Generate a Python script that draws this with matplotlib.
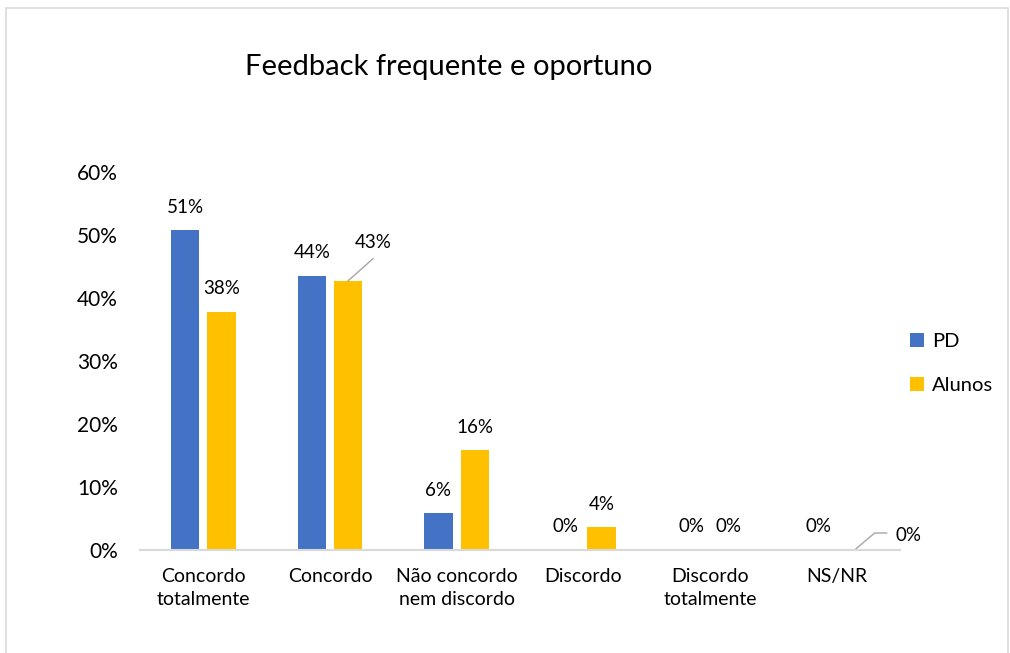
import matplotlib.pyplot as plt
from matplotlib.patches import Rectangle
import numpy as np

plt.rcParams['font.family'] = ['Lato', 'DejaVu Sans']

# data
categorias = ["Concordo\ntotalmente", "Concordo", "Não concordo\nnem discordo",
              "Discordo", "Discordo\ntotalmente", "NS/NR"]
pd_vals = [0.507, 0.435, 0.058, 0.0, 0.0, 0.0]
alunos_vals = [0.378, 0.427, 0.158, 0.036, 0.0, 0.0]
pd_labels = ["51%", "44%", "6%", "0%", "0%", "0%"]
alunos_labels = ["38%", "43%", "16%", "4%", "0%", "0%"]

azul = "#4472C4"
amarelo = "#FFC000"

fig = plt.figure(figsize=(10.10, 6.53), dpi=100)
ax = fig.add_axes([0.1386, 0.1582, 0.7525, 0.5789])

x = np.arange(len(categorias))
w = 0.225
off = 0.144
ax.bar(x - off, pd_vals, w, color=azul, label="PD")
ax.bar(x + off, alunos_vals, w, color=amarelo, label="Alunos")

ax.set_xlim(-0.5, 5.5)
ax.set_ylim(0, 0.6)
ax.set_yticks(np.arange(0, 0.61, 0.1))
ax.set_yticklabels([f"{int(round(v * 100))}%" for v in np.arange(0, 0.61, 0.1)])
ax.set_xticks(x)
ax.set_xticklabels(categorias, linespacing=1.4)
ax.tick_params(axis='y', length=0, pad=16, labelsize=15, colors="#000000")
ax.tick_params(axis='x', length=0, pad=13.5, labelsize=14)
for s in ["top", "right", "left"]:
    ax.spines[s].set_visible(False)
ax.spines["bottom"].set_color("#D9D9D9")
ax.spines["bottom"].set_linewidth(1.5)

# data labels
for i in range(len(categorias)):
    ax.annotate(pd_labels[i], (x[i] - off, pd_vals[i]), xytext=(0, 16.5),
                textcoords="offset points", ha="center", va="center", fontsize=13.5)

for i in range(len(categorias)):
    if i == 1:
        ax.text(1.34, 0.487, alunos_labels[i], ha="center", va="center", fontsize=13.5)
        ax.plot([x[i] + off, 1.34], [alunos_vals[i], 0.462], color="#A6A6A6", lw=1)
    elif i == 5:
        ax.text(5.57, 0.022, alunos_labels[i], ha="center", va="center", fontsize=13.5,
                clip_on=False)
        ax.plot([x[i] + off, 5.30, 5.395], [0.0, 0.0265, 0.0265], color="#A6A6A6",
                lw=1, clip_on=False)
    else:
        ax.annotate(alunos_labels[i], (x[i] + off, alunos_vals[i]), xytext=(0, 16.5),
                    textcoords="offset points", ha="center", va="center", fontsize=13.5)

fig.text(0.4446, 0.897, "Feedback frequente e oportuno", ha="center", va="center",
         fontsize=21)

fig.legend(loc="center left", bbox_to_anchor=(0.883, 0.443), frameon=False,
           fontsize=14.5, handlelength=0.7, handleheight=0.7, handletextpad=0.4,
           labelspacing=1.35)

fig.patches.append(Rectangle((6 / 1010, -0.01), 1002 / 1010, 1 - 8 / 653 + 0.01,
                             transform=fig.transFigure, fill=False,
                             edgecolor="#D9D9D9", lw=1.2))

fig.savefig("out.png", dpi=100)
